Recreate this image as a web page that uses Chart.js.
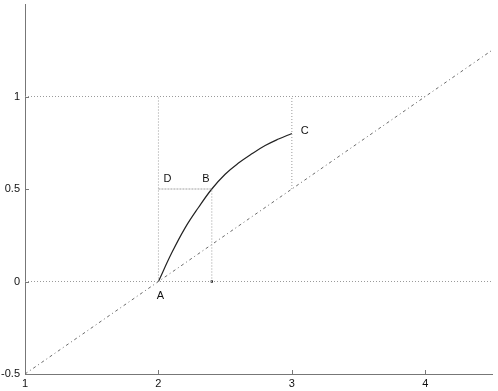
<!DOCTYPE html>
<html>
<head>
<meta charset="utf-8">
<script src="https://cdn.jsdelivr.net/npm/chart.js@4/dist/chart.umd.min.js"></script>
<style>
	html, body { margin: 0; padding: 0; background: #fff; }
	#wrap { width: 498px; height: 391px; }
</style>
</head>
<body>
<div id="wrap"><canvas id="myChart" width="498" height="391"></canvas></div>
<script>
/* curve A -> B -> C */
var curveX = [2.0, 2.1, 2.2, 2.3, 2.4, 2.5, 2.6, 2.7, 2.8, 2.9, 3.0];
var curveY = [0, 0.155, 0.29, 0.40, 0.50, 0.58, 0.64, 0.69, 0.735, 0.77, 0.80];

/* dash-dot diagonal y = x/2 - 1 */
var diagX = [1, 4.5];
var diagY = [-0.5, 1.25];

/* dotted guide lines, pairs of [x, y] */
var guideLevel1 = [[1, 1], [4, 1]];
var guideLevel0 = [[1, 0], [4.5, 0]];
var guideX2 = [[2, 0], [2, 1]];
var guideX3 = [[3, 0.5], [3, 1]];
var guideXB = [[2.4, 0], [2.4, 0.5]];
var guideDB = [[2, 0.5], [2.4, 0.5]];
var footB = [[2.4, 0]];

/* point names */
var pointNames = ['A', 'B', 'C', 'D'];
var pointX = [2.0, 2.4, 3.0, 2.0];
var pointY = [0, 0.5, 0.8, 0.5];

/* axes */
var xTicks = [1, 2, 3, 4];
var yTicks = [-0.5, 0, 0.5, 1];

function pts(list) {
	return list.map(function(p) { return {x: p[0], y: p[1]}; });
}

function guide(list, dash, color) {
	return {
		data: pts(list),
		showLine: true,
		borderColor: color || '#9a9a9a',
		borderWidth: 1,
		borderDash: dash || [1, 2],
		pointRadius: 0,
		fill: false
	};
}

var curve = curveX.map(function(x, i) { return {x: x, y: curveY[i]}; });
var diag = diagX.map(function(x, i) { return {x: x, y: diagY[i]}; });

/* inward ticks and point letters */
var extras = {
	id: 'extras',
	afterDatasetsDraw: function(chart) {
		var ctx = chart.ctx, xs = chart.scales.x, ys = chart.scales.y;
		ctx.save();
		ctx.strokeStyle = '#777';
		ctx.lineWidth = 1;
		ctx.beginPath();
		xTicks.forEach(function(v) {
			if (v == xs.min) return;
			var px = Math.round(xs.getPixelForValue(v)) + 0.5;
			ctx.moveTo(px, ys.bottom);
			ctx.lineTo(px, ys.bottom - 4);
		});
		yTicks.forEach(function(v) {
			if (v == ys.min) return;
			var py = Math.round(ys.getPixelForValue(v)) + 0.5;
			ctx.moveTo(xs.left, py);
			ctx.lineTo(xs.left + 4, py);
		});
		ctx.stroke();

		ctx.fillStyle = '#111';
		ctx.font = '11px "Liberation Sans", Arial, sans-serif';
		ctx.textBaseline = 'middle';
		var offs = [[2, 14], [-6, -10], [9, -3], [9, -10]];
		pointNames.forEach(function(n, i) {
			var px = xs.getPixelForValue(pointX[i]) + offs[i][0];
			var py = ys.getPixelForValue(pointY[i]) + offs[i][1];
			ctx.textAlign = i == 2 ? 'left' : 'center';
			ctx.fillText(n, px, py);
		});
		ctx.restore();
	}
};

var config = {
	type: 'scatter',
	data: {
		datasets: [
			guide(guideLevel1),
			guide(guideLevel0),
			guide(guideX2),
			guide(guideX3),
			guide(guideXB),
			guide(guideDB, [2, 1], '#a0a0a0'),
			{
				data: diag,
				showLine: true,
				borderColor: '#6a6a6a',
				borderWidth: 1,
				borderDash: [3, 3, 1, 3],
				pointRadius: 0
			},
			{
				data: curve,
				showLine: true,
				borderColor: '#222',
				borderWidth: 1.2,
				tension: 0.4,
				pointRadius: 0
			},
			{
				data: pts(footB),
				pointStyle: 'rect',
				pointRadius: 1.6,
				backgroundColor: '#000',
				borderWidth: 0
			}
		]
	},
	options: {
		responsive: false,
		animation: false,
		devicePixelRatio: 1,
		layout: { padding: { top: 3, right: 6, left: 0, bottom: 0 } },
		plugins: { legend: { display: false }, tooltip: { enabled: false } },
		scales: {
			x: {
				type: 'linear',
				min: 1,
				max: 4.5,
				grid: { display: false, drawTicks: false },
				border: { display: true, color: '#777', width: 1 },
				ticks: {
					stepSize: 1,
					includeBounds: false,
					padding: 3,
					color: '#111',
					font: { family: '"Liberation Sans", Arial, sans-serif', size: 11 },
					maxRotation: 0
				},
				afterFit: function(scale) {
					scale.height = 17;
					scale.paddingLeft = 0;
					scale.paddingRight = 0;
				}
			},
			y: {
				type: 'linear',
				min: -0.5,
				max: 1.5,
				grid: { display: false, drawTicks: false },
				border: { display: true, color: '#777', width: 1 },
				ticks: {
					stepSize: 0.5,
					padding: 5,
					color: '#111',
					font: { family: '"Liberation Sans", Arial, sans-serif', size: 11 },
					callback: function(v) { return yTicks.indexOf(v) < 0 ? '' : String(v); }
				},
				afterFit: function(scale) {
					scale.width = 25;
					scale.paddingTop = 0;
					scale.paddingBottom = 0;
				}
			}
		}
	},
	plugins: [extras]
};

var myNewChart = new Chart(document.getElementById('myChart').getContext('2d'), config);
</script>
</body>
</html>
